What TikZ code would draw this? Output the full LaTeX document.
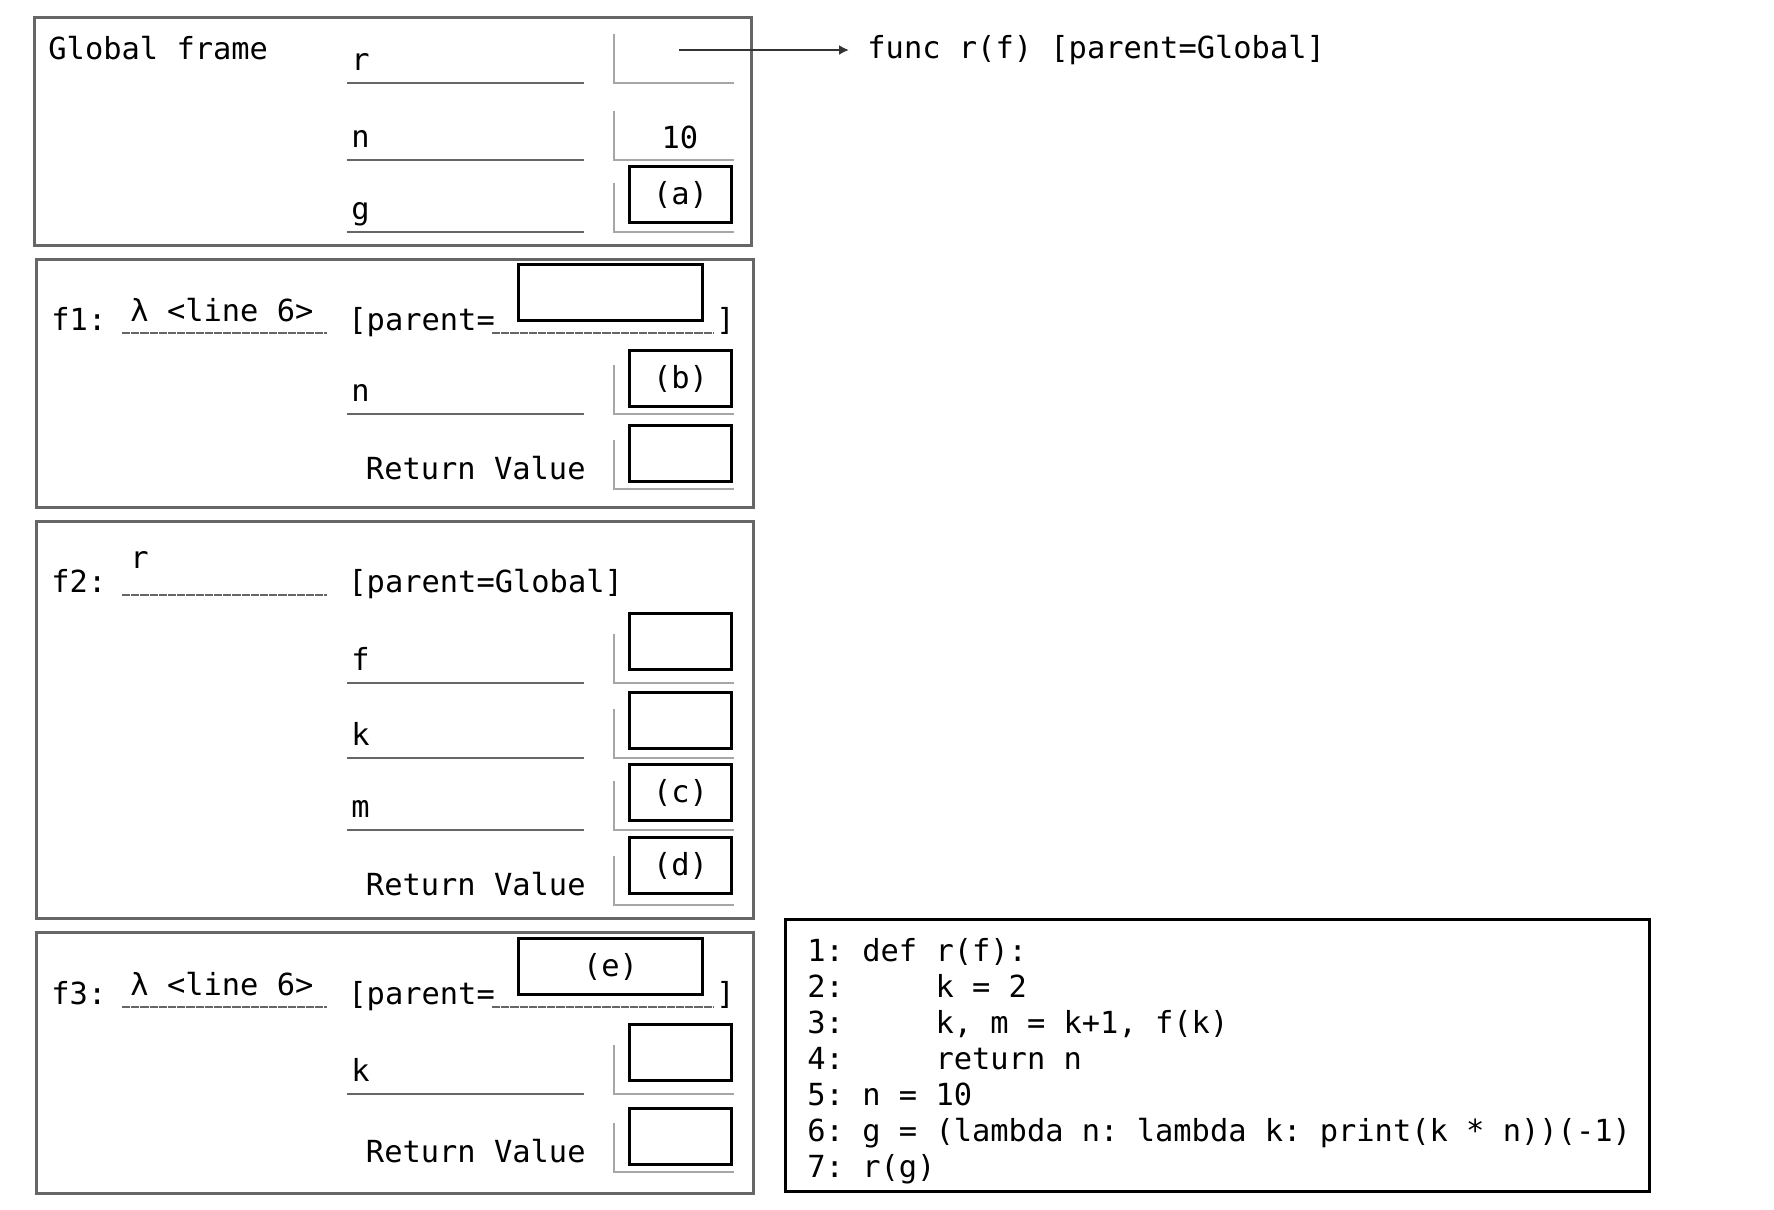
\documentclass[tikz,border=0pt]{standalone}
\usepackage{fontspec}
\newfontfamily\diagmono{DejaVu Sans Mono}
\usetikzlibrary{positioning,arrows.meta}
\frenchspacing

\begin{document}
\begin{tikzpicture}[x=0.5pt, y=-0.5pt,
            % --- styles ---
            every node/.style={font=\diagmono\fontsize{15.2}{18}\selectfont\frenchspacing, inner sep=0pt},
            frame/.style={draw=black!60, line width=1.3pt, anchor=north west, minimum width=358.5pt},
            uline/.style={draw=black!60, line width=1pt},
            dline/.style={draw=black!60, line width=1.3pt, dash pattern=on 4.1pt off 0.5pt},
            bracket/.style={draw=black!35, line width=0.8pt},
            varname/.style={anchor=south west, minimum width=118pt, text width=114pt, align=left,
                            inner xsep=2pt, text height=11pt, text depth=6pt,
                            append after command={(\tikzlastnode.south west) edge[uline] (\tikzlastnode.south east)}},
            fline/.style={anchor=south west, minimum width=102pt, minimum height=2pt,
                          append after command={(\tikzlastnode.south west) edge[dline] (\tikzlastnode.south east)}},
            pslot/.style={anchor=south west, minimum width=110.5pt, minimum height=2pt,
                          append after command={(\tikzlastnode.south west) edge[dline] (\tikzlastnode.south east)}},
            slot/.style={anchor=south west, minimum width=59.5pt, minimum height=24pt,
                         append after command={(\tikzlastnode.north west) edge[bracket, to path={|- (\tikztotarget)}] (\tikzlastnode.south east)}},
            valbox/.style={draw, line width=1.5pt, minimum width=51pt, minimum height=28pt},
            parbox/.style={draw, line width=1.5pt, minimum width=92pt, minimum height=28pt},
            label/.style={anchor=base west},
            ptr/.style={draw=black!80, line width=1.2pt, -{Latex[length=5pt,width=5pt]}}
        ]
        \useasboundingbox (0,0) rectangle (1774,1210);

        % --- Global frame ---
        \node[frame, minimum height=114pt] (global) at (33,16) {};
        \node[label] (gtitle) at (48,60) {Global frame};
        \node[varname] (gr) at (347,83) {r};
        \node[slot] (grs) at (614,83) {};
        \node[varname] (gn) at (347,160) {n};
        \node[slot] (gns) at (614,160) {};
        \node (gnv) at ([xshift=3pt, yshift=-1pt]gns.center) {10};
        \node[varname] (gg) at (347,232) {g};
        \node[slot] (ggs) at (614,232) {};
        \node[valbox, above right=4pt and 7pt of ggs.south west] (gga) {(a)};

        % function object
        \node[anchor=west, inner xsep=9pt] (rfunc) at (849,50) {func r(f) [parent=Global]};
        \coordinate (grp) at (679,50);
        \path[ptr] (grp) -- (grp -| rfunc.west);

        % --- f1 ---
        \node[frame, minimum height=124pt] (f1) at (35,258) {};
        \node[label] (f1lbl) at (51,330) {f1:};
        \node[fline] (f1l) at (122,333) {};
        \node[label] (f1n) at ([xshift=4pt, yshift=6pt]f1l.south west) {λ <line 6>};
        \node[label] (f1par) at (348,330) {[parent=};
        \node[pslot] (f1ps) at (492,333) {};
        \node[parbox, above right=5.5pt and 12.5pt of f1ps.south west] (f1p) {};
        \node[label] (f1close) at (716,330) {]};
        \node[varname] (f1nn) at (347,414) {n};
        \node[slot] (f1ns) at (614,414) {};
        \node[valbox, above right=3pt and 7pt of f1ns.south west] (f1nb) {(b)};
        \node[anchor=base east] (f1rv) at (586,479) {Return Value};
        \node[slot] (f1rs) at (614,489) {};
        \node[valbox, above right=3pt and 7pt of f1rs.south west] (f1rvb) {};

        % --- f2 ---
        \node[frame, minimum height=198.5pt] (f2) at (35,520) {};
        \node[label] (f2lbl) at (51,592) {f2:};
        \node[fline] (f2l) at (122,595) {};
        \node[label] (f2n) at ([xshift=4pt, yshift=13.5pt]f2l.south west) {r};
        \node[label] (f2par) at (348,592) {[parent=Global]};
        \node[varname] (f2f) at (347,683) {f};
        \node[slot] (f2fs) at (614,683) {};
        \node[valbox, above right=6pt and 7pt of f2fs.south west] (f2fb) {};
        \node[varname] (f2k) at (347,758) {k};
        \node[slot] (f2ks) at (614,758) {};
        \node[valbox, above right=4pt and 7pt of f2ks.south west] (f2kb) {};
        \node[varname] (f2m) at (347,830) {m};
        \node[slot] (f2ms) at (614,830) {};
        \node[valbox, above right=4pt and 7pt of f2ms.south west] (f2mb) {(c)};
        \node[anchor=base east] (f2rv) at (586,895) {Return Value};
        \node[slot] (f2rs) at (614,905) {};
        \node[valbox, above right=5pt and 7pt of f2rs.south west] (f2rvb) {(d)};

        % --- f3 ---
        \node[frame, minimum height=130.5pt] (f3) at (35,931) {};
        \node[label] (f3lbl) at (51,1004) {f3:};
        \node[fline] (f3l) at (122,1007) {};
        \node[label] (f3n) at ([xshift=4pt, yshift=6pt]f3l.south west) {λ <line 6>};
        \node[label] (f3par) at (348,1004) {[parent=};
        \node[pslot] (f3ps) at (492,1007) {};
        \node[parbox, above right=5.5pt and 12.5pt of f3ps.south west] (f3p) {(e)};
        \node[label] (f3close) at (716,1004) {]};
        \node[varname] (f3k) at (347,1094) {k};
        \node[slot] (f3ks) at (614,1094) {};
        \node[valbox, above right=6pt and 7pt of f3ks.south west] (f3kb) {};
        \node[anchor=base east] (f3rv) at (586,1162) {Return Value};
        \node[slot] (f3rs) at (614,1172) {};
        \node[valbox, above right=3pt and 7pt of f3rs.south west] (f3rvb) {};

        % --- source code ---
        \node[draw, line width=1.5pt, anchor=north west, minimum width=432pt, minimum height=136pt] (code) at (784,918) {};
        \node[anchor=north west, align=left] (codetxt) at (807,938) {
            1: def r(f):\\
            2:~~~~~k = 2\\
            3:~~~~~k, m = k+1, f(k)\\
            4:~~~~~return n\\
            5: n = 10\\
            6: g = (lambda n: lambda k: print(k * n))(-1)\\
            7: r(g)
        };

        \end{tikzpicture}
\end{document}
